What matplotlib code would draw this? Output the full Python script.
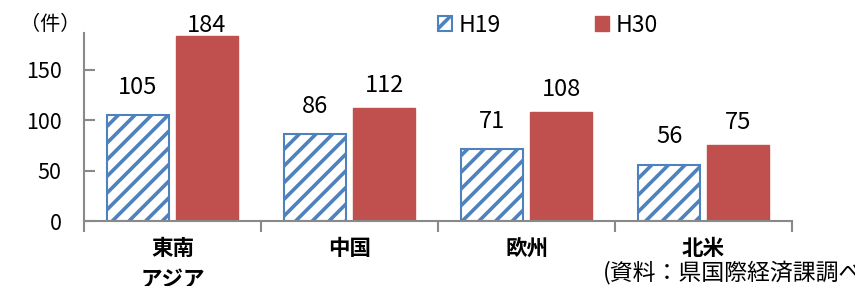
import matplotlib
matplotlib.use('Agg')
import matplotlib.pyplot as plt
import numpy as np

plt.rcParams['font.family'] = ['Noto Sans CJK JP', 'DejaVu Sans']
plt.rcParams['hatch.linewidth'] = 2.6

regions = ['東南\nアジア', '中国', '欧州', '北米']
h19 = [105, 86, 71, 56]
h30 = [184, 112, 108, 75]
series_names = ['H19', 'H30']

blue = '#4F81BD'
red = '#C0504D'
grey = '#898989'

fig = plt.figure(figsize=(8.55, 2.86), dpi=100)
ax = fig.add_axes([84 / 855, 65 / 286, (792 - 84) / 855, 187.5 / 286])

x = np.arange(len(regions))
w = 0.35
off = 0.195
ymax = 186

b1 = ax.bar(x - off, h19, w, color='white', edgecolor=blue, hatch='//',
            linewidth=1.5, label=series_names[0])
b2 = ax.bar(x + off, h30, w, color=red, edgecolor=red, linewidth=1,
            label=series_names[1])

# value labels (Excel pushes the tallest one down inside the plot area)
for xi, v in zip(x - off, h19):
    ax.text(xi, min(v + 16, ymax), str(v), ha='center', va='bottom', fontsize=17)
for xi, v in zip(x + off, h30):
    ax.text(xi, min(v + 11, ymax - 3), str(v), ha='center', va='bottom', fontsize=17)

ax.set_xlim(-0.5, len(regions) - 0.5)
ax.set_ylim(0, ymax)
ax.set_yticks([0, 50, 100, 150])
ax.tick_params(axis='y', direction='in', length=8, width=1.5, color=grey,
               labelsize=15.5, pad=16)

ax.set_xticks(x)
ax.set_xticklabels(regions, fontsize=15.5, fontweight='bold', linespacing=1.6)
ax.set_xticks(np.arange(-0.5, len(regions)), minor=True)
ax.tick_params(axis='x', which='major', length=0, pad=12)
ax.tick_params(axis='x', which='minor', direction='out', length=8, width=1.5,
               color=grey)

for s in ['top', 'right']:
    ax.spines[s].set_visible(False)
for s in ['left', 'bottom']:
    ax.spines[s].set_color(grey)
    ax.spines[s].set_linewidth(1.5)

fig.legend(handles=[b1, b2], loc='center left', bbox_to_anchor=(438 / 855, 1 - 25 / 286),
           ncol=2, frameon=False, fontsize=16.5, handlelength=0.6, handleheight=0.6,
           handletextpad=0.3, columnspacing=4.1, borderpad=0, borderaxespad=0)

fig.text(20 / 855, 1 - 24 / 286, '（件）', fontsize=14.5, va='center', ha='left')
fig.text(603 / 855, 1 - 272 / 286, '(資料：県国際経済課調べ)', fontsize=16.5,
         va='center', ha='left')

fig.savefig('out.png', dpi=100)
